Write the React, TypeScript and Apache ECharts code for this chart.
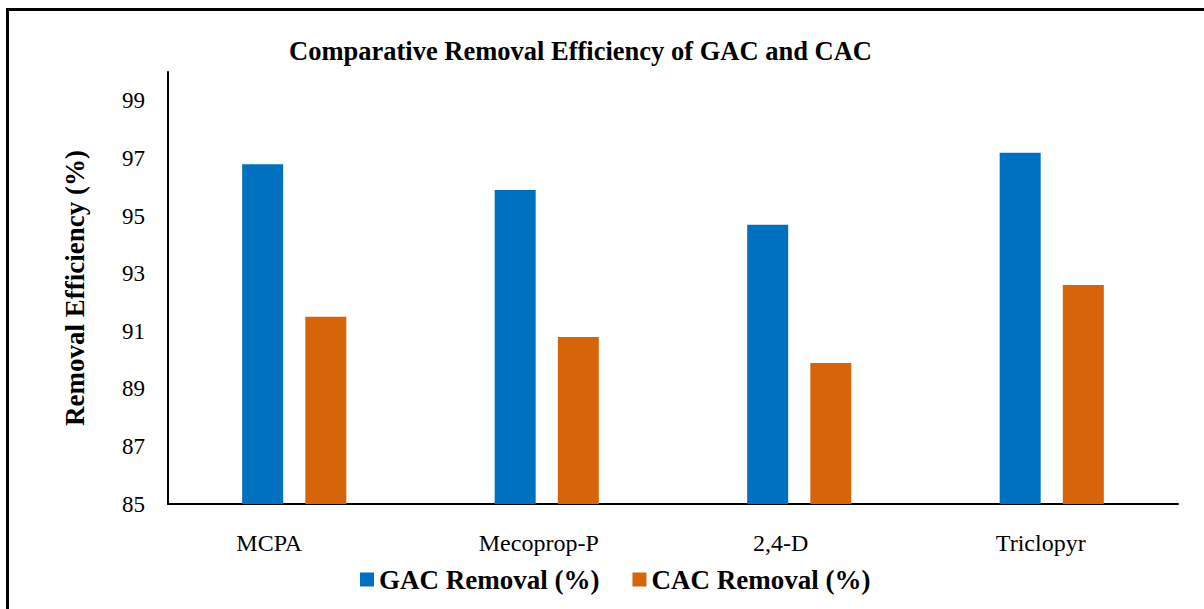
import React, { useEffect, useRef } from "react";
import * as echarts from "echarts";

const categories = ["MCPA", "Mecoprop-P", "2,4-D", "Triclopyr"];
const gacRemoval = [96.8, 95.9, 94.7, 97.2];
const cacRemoval = [91.5, 90.8, 89.9, 92.6];
const seriesNames = ["GAC Removal (%)", "CAC Removal (%)"];
const titleText = "Comparative Removal Efficiency of GAC and CAC";
const yAxisTitle = "Removal Efficiency (%)";

const FONT = "'Liberation Serif', 'Times New Roman', serif";
const labelShift = [50, 16, 37, 22];

export default function App() {
  const ref = useRef<HTMLDivElement>(null);
  useEffect(() => {
    if (!ref.current) return;
    const chart = echarts.init(ref.current, undefined, { renderer: "svg" });
    const rich: any = {};
    labelShift.forEach((s, i) => {
      rich["c" + i] = {
        fontFamily: FONT,
        fontSize: 24,
        color: "#000",
        padding: [0, s, 0, 0],
      };
    });
    chart.setOption({
      animation: false,
      title: {
        text: titleText,
        left: 284,
        top: 32,
        textStyle: { fontFamily: FONT, fontWeight: "bold", fontSize: 26.5, color: "#000" },
      },
      legend: {
        data: seriesNames,
        left: 355,
        top: 561,
        itemWidth: 14,
        itemHeight: 14,
        itemGap: 33,
        icon: "rect",
        textStyle: { fontFamily: FONT, fontWeight: "bold", fontSize: 27, color: "#000" },
      },
      grid: { left: 168, right: 26, top: 72, bottom: 105 },
      xAxis: {
        type: "category",
        data: categories,
        axisLine: { show: true, lineStyle: { color: "#000", width: 2 } },
        axisTick: { show: false },
        axisLabel: {
          margin: 27,
          formatter: (v: string, i: number) => `{c${i}|${v}}`,
          rich,
        },
      },
      yAxis: {
        type: "value",
        min: 85,
        max: 100,
        interval: 1,
        name: yAxisTitle,
        nameLocation: "middle",
        nameGap: 80,
        nameTextStyle: { fontFamily: FONT, fontWeight: "bold", fontSize: 27, color: "#000" },
        axisLine: { show: true, lineStyle: { color: "#000", width: 2 } },
        axisTick: { show: false },
        splitLine: { show: false },
        axisLabel: {
          margin: 23,
          fontFamily: FONT,
          fontSize: 23,
          color: "#000",
          formatter: (v: number) => (Math.round(v) % 2 === 1 ? String(v) : ""),
        },
      },
      series: [
        {
          name: seriesNames[0],
          type: "bar",
          data: gacRemoval,
          barWidth: 41,
          barGap: "54%",
          itemStyle: { color: "#0070C0" },
        },
        {
          name: seriesNames[1],
          type: "bar",
          data: cacRemoval,
          barWidth: 41,
          itemStyle: { color: "#D6650A" },
        },
      ],
    });
    return () => chart.dispose();
  }, []);
  return (
    <>
      <div
        style={{
          position: "fixed",
          left: 6,
          top: 8,
          right: -10,
          bottom: -10,
          border: "3px solid #000",
          background: "#fff",
        }}
      />
      <div
        ref={ref}
        style={{ position: "fixed", left: 0, top: 0, width: 1204, height: 609 }}
      />
    </>
  );
}
